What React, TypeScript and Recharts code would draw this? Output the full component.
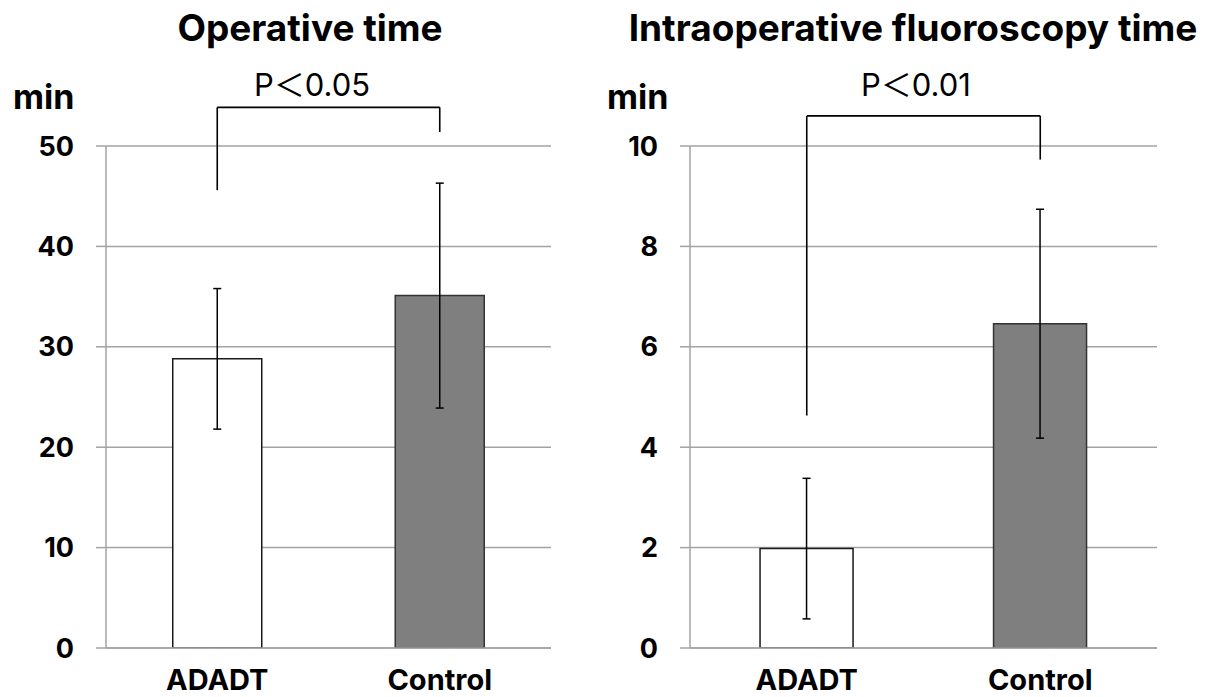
import React from 'react';
import { BarChart, Bar, XAxis, YAxis, CartesianGrid, ErrorBar, Cell, ReferenceLine } from 'recharts';

const categories = ['ADADT', 'Control'];

const opMean = [28.8, 35.1];
const opSd = [7.0, 11.2];
const opTicks = [0, 10, 20, 30, 40, 50];
const opBracket = [45.6, 53.85, 51.4]; // left leg end, top, right leg end

const fluoroMean = [1.98, 6.46];
const fluoroSd = [1.4, 2.28];
const fluoroTicks = [0, 2, 4, 6, 8, 10];
const fluoroBracket = [4.63, 10.6, 9.73];

const barFills = ['#ffffff', '#7f7f7f'];
const barStrokes = ['#1a1a1a', '#333333'];

const FONT = "Inter, 'Noto Sans CJK JP', sans-serif";
const GRID = '#a3a3a3';

type PanelProps = {
  means: number[];
  sds: number[];
  ticks: number[];
  bracket: number[];
  left: number;
  width: number;
  marginLeft: number;
  marginRight: number;
};

function Panel({ means, sds, ticks, bracket, left, width, marginLeft, marginRight }: PanelProps) {
  const data = categories.map((name, i) => ({ name, mean: means[i], sd: sds[i] }));
  const [legL, top, legR] = bracket;
  const a = categories[0];
  const b = categories[1];
  return (
    <div style={{ position: 'absolute', left, top: 0 }}>
      <BarChart
        width={width}
        height={697}
        data={data}
        barCategoryGap="30%"
        margin={{ top: 146, right: marginRight, left: marginLeft, bottom: 0 }}
      >
        <CartesianGrid vertical={false} stroke={GRID} strokeWidth={1.5} />
        <XAxis
          dataKey="name"
          height={49}
          tickSize={0}
          tickMargin={21}
          axisLine={{ stroke: GRID, strokeWidth: 1.5 }}
          tickLine={false}
          tick={{ fill: '#000', fontSize: 29, fontWeight: 700, fontFamily: FONT }}
        />
        <YAxis
          width={80}
          domain={[ticks[0], ticks[ticks.length - 1]]}
          ticks={ticks}
          tickSize={10}
          tickMargin={22}
          axisLine={{ stroke: GRID, strokeWidth: 1.5 }}
          tickLine={{ stroke: GRID, strokeWidth: 1.5 }}
          tick={{ fill: '#000', fontSize: 27, fontWeight: 700, fontFamily: FONT }}
          allowDataOverflow
        />
        <Bar dataKey="mean" isAnimationActive={false} strokeWidth={1.5}>
          {data.map((d, i) => (
            <Cell key={d.name} fill={barFills[i]} stroke={barStrokes[i]} />
          ))}
          <ErrorBar dataKey="sd" direction="y" width={4} stroke="#000" strokeWidth={1.5} isAnimationActive={false} />
        </Bar>
        <ReferenceLine segment={[{ x: a, y: legL }, { x: a, y: top }]} stroke="#000" strokeWidth={1.6} ifOverflow="visible" />
        <ReferenceLine segment={[{ x: a, y: top }, { x: b, y: top }]} stroke="#000" strokeWidth={1.6} ifOverflow="visible" />
        <ReferenceLine segment={[{ x: b, y: legR }, { x: b, y: top }]} stroke="#000" strokeWidth={1.6} ifOverflow="visible" />
      </BarChart>
    </div>
  );
}

export default function App() {
  return (
    <div style={{ position: 'absolute', left: 0, top: 0, width: 1211, height: 697, background: '#fff', overflow: 'hidden' }}>
      <Panel means={opMean} sds={opSd} ticks={opTicks} bracket={opBracket} left={0} width={580} marginLeft={26} marginRight={29} />
      <Panel means={fluoroMean} sds={fluoroSd} ticks={fluoroTicks} bracket={fluoroBracket} left={590} width={621} marginLeft={20} marginRight={54} />
      <svg width={1211} height={697} style={{ position: 'absolute', left: 0, top: 0, pointerEvents: 'none' }}>
        <g fontFamily={FONT} fill="#000">
          <text x={310} y={41} textAnchor="middle" fontSize={37} fontWeight={700}>Operative time</text>
          <text x={913} y={41} textAnchor="middle" fontSize={37} fontWeight={700}>Intraoperative fluoroscopy time</text>
          <text x={13} y={109} fontSize={34} fontWeight={700}>min</text>
          <text x={607} y={109} fontSize={34} fontWeight={700}>min</text>
          <text x={312} y={96} textAnchor="middle" fontSize={31}>P＜0.05</text>
          <text x={916} y={96} textAnchor="middle" fontSize={31}>P＜0.01</text>
        </g>
      </svg>
    </div>
  );
}
